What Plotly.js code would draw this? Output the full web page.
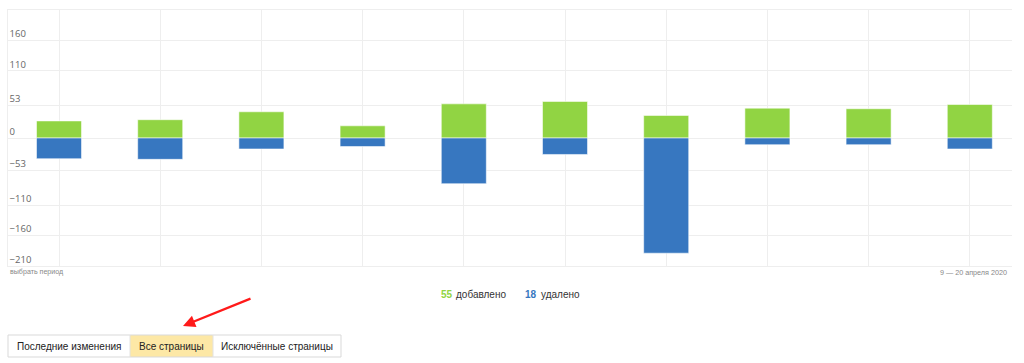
<!DOCTYPE html>
<html>
<head>
<meta charset="utf-8">
<script src="https://cdn.plot.ly/plotly-3.0.1.min.js"></script>
<style>
html,body{margin:0;padding:0;background:#fff;}
#chart{width:1024px;height:363px;}
</style>
</head>
<body>
<div id="chart"></div>
<script>
// Data
const categories = [0, 1, 2, 3, 4, 5, 6, 7, 8, 9];
const addedValues = [28, 30, 43, 20, 56, 60, 37, 49, 48, 55];
const removedValues = [-34, -35, -18, -14, -75, -27, -189, -11, -11, -18];
const yTickVals = [-210, -160, -110, -53, 0, 53, 110, 160, 210];
const yTickText = ['−210', '−160', '−110', '−53', '0', '53', '110', '160', ''];
const buttonLabels = ['Последние изменения', 'Все страницы', 'Исключённые страницы'];
const legendAdded = '55';
const legendRemoved = '18';

const GREEN = '#91d443';
const BLUE = '#3777c0';

const W = 1024, H = 363;
const L = 8, R = 12, T = 10, B = 97;
const pw = W - L - R, ph = H - T - B;
const px = X => (X - L) / pw;
const py = Y => (H - B - Y) / ph;

const traces = [
  {
    type: 'bar', x: categories, y: addedValues, width: 0.445,
    marker: {color: GREEN, line: {color: 'rgba(255,255,255,0.55)', width: 1}},
    hoverinfo: 'skip', name: 'добавлено'
  },
  {
    type: 'bar', x: categories, y: removedValues, width: 0.445,
    marker: {color: BLUE, line: {color: 'rgba(255,255,255,0.55)', width: 1}},
    hoverinfo: 'skip', name: 'удалено'
  }
];

const txt = '#333333';
const FF = 'Liberation Sans, Arial';
const annotations = [
  {xref: 'paper', yref: 'paper', x: px(8), y: py(272), xanchor: 'left', yanchor: 'middle',
   text: 'выбрать период', showarrow: false, font: {family: FF, size: 7.1, color: '#888'}},
  {xref: 'paper', yref: 'paper', x: px(1009), y: py(272), xanchor: 'right', yanchor: 'middle',
   text: '9 — 20 апреля 2020', showarrow: false, font: {family: FF, size: 7.2, color: '#888'}},
  {xref: 'paper', yref: 'paper', x: px(439), y: py(294), xanchor: 'left', yanchor: 'middle',
   text: '<b>' + legendAdded + '</b>', showarrow: false, font: {family: FF, size: 10, color: GREEN}},
  {xref: 'paper', yref: 'paper', x: px(454), y: py(294), xanchor: 'left', yanchor: 'middle',
   text: 'добавлено', showarrow: false, font: {family: FF, size: 10, color: txt}},
  {xref: 'paper', yref: 'paper', x: px(523), y: py(294), xanchor: 'left', yanchor: 'middle',
   text: '<b>' + legendRemoved + '</b>', showarrow: false, font: {family: FF, size: 10, color: BLUE}},
  {xref: 'paper', yref: 'paper', x: px(539), y: py(294), xanchor: 'left', yanchor: 'middle',
   text: 'удалено', showarrow: false, font: {family: FF, size: 10, color: txt}},
  // red arrow
  {xref: 'paper', yref: 'paper', x: px(183), y: py(326), ax: 69, ay: -28, axref: 'pixel', ayref: 'pixel',
   text: '', showarrow: true, arrowhead: 2, arrowsize: 1.1, arrowwidth: 2.2, arrowcolor: '#ff1a1a'}
];

const btnEdges = [8, 130, 213, 341];
const shapes = [];
shapes.push({type: 'rect', xref: 'paper', yref: 'paper', x0: px(btnEdges[1]), x1: px(btnEdges[2]), y0: py(357), y1: py(335),
  fillcolor: '#fde8a6', line: {width: 0}, layer: 'below'});
shapes.push({type: 'rect', xref: 'paper', yref: 'paper', x0: px(btnEdges[0]), x1: px(btnEdges[3]), y0: py(357), y1: py(335),
  fillcolor: 'rgba(0,0,0,0)', line: {color: '#d9d9d9', width: 1}});
[1, 2].forEach(i => shapes.push({type: 'line', xref: 'paper', yref: 'paper', x0: px(btnEdges[i]), x1: px(btnEdges[i]),
  y0: py(357), y1: py(335), line: {color: '#e2e2e2', width: 1}}));
buttonLabels.forEach((lab, i) => annotations.push({
  xref: 'paper', yref: 'paper', x: px((btnEdges[i] + btnEdges[i + 1]) / 2), y: py(346.5),
  xanchor: 'center', yanchor: 'middle', text: lab, showarrow: false,
  font: {family: FF, size: 10, color: '#222'}
}));

const layout = {
  width: W, height: H,
  margin: {l: L, r: R, t: T, b: B, pad: 0},
  paper_bgcolor: '#fff', plot_bgcolor: '#fff',
  barmode: 'relative', bargap: 0,
  showlegend: false,
  xaxis: {
    type: 'linear', range: [-0.504, 9.417], tickvals: categories, showticklabels: false,
    showgrid: true, gridcolor: '#eeeeee', gridwidth: 1, zeroline: false,
    showline: true, mirror: true, linecolor: '#eeeeee', linewidth: 1, ticks: '', fixedrange: true
  },
  yaxis: {
    range: [-210, 210], tickvals: yTickVals, ticktext: yTickText,
    ticklabelposition: 'inside top', ticks: '',
    tickfont: {family: 'Open Sans, Liberation Sans', size: 9.5, color: '#666'},
    showgrid: true, gridcolor: '#eeeeee', gridwidth: 1,
    zeroline: true, zerolinecolor: '#eeeeee', zerolinewidth: 1,
    showline: true, linecolor: '#eeeeee', linewidth: 1, fixedrange: true
  },
  annotations: annotations,
  shapes: shapes
};

Plotly.newPlot('chart', traces, layout, {displayModeBar: false, staticPlot: true});
</script>
</body>
</html>
